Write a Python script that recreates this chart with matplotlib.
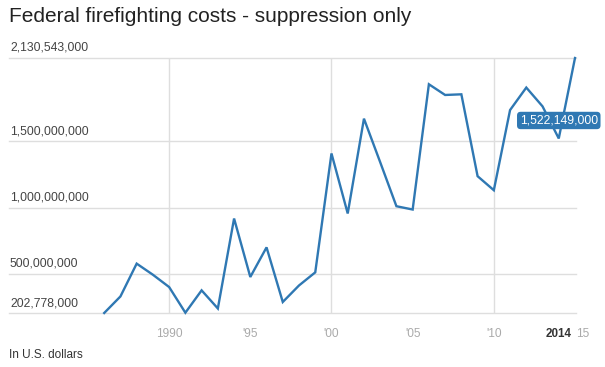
import matplotlib
matplotlib.use("Agg")
import matplotlib.pyplot as plt

years = list(range(1986, 2016))
costs = [202778000, 328000000, 576000000, 492000000, 399000000, 205000000,
         374000000, 237000000, 917000000, 475000000, 699000000, 286000000,
         411000000, 510000000, 1409000000, 955000000, 1672000000, 1343000000,
         1010000000, 985000000, 1932000000, 1851000000, 1856000000, 1237000000,
         1131000000, 1737000000, 1907000000, 1765000000, 1522149000, 2130543000]

y_ticks = [202778000, 500000000, 1000000000, 1500000000, 2130543000]
y_tick_labels = ["202,778,000", "500,000,000", "1,000,000,000", "1,500,000,000", "2,130,543,000"]
x_ticks = [1990, 1995, 2000, 2005, 2010]
x_tick_labels = ["1990", "'95", "'00", "'05", "'10"]
x_grid = [1990, 2000, 2010]
highlight_year = 2014
highlight_value = 1522149000

plt.rcParams['font.family'] = ['Liberation Sans', 'DejaVu Sans']

W, H = 605, 367
fig = plt.figure(figsize=(W / 100, H / 100), dpi=100)
left_px, right_px, top_px, bot_px = 9, 576, 58, 313
ax = fig.add_axes([left_px / W, 1 - bot_px / H, (right_px - left_px) / W, (bot_px - top_px) / H])

px_per_year = 16.2
x0 = 1986 - (104 - left_px) / px_per_year
x1 = 2015 + (right_px - 575) / px_per_year
ax.set_xlim(x0, x1)
ax.set_ylim(y_ticks[0], y_ticks[-1])

for s in ax.spines.values():
    s.set_visible(False)
ax.set_xticks([])
ax.set_yticks([])

grid_c = '#dedede'
for v in y_ticks:
    ax.axhline(v, color=grid_c, lw=1.0, zorder=1, clip_on=False)
for x in x_grid:
    ax.axvline(x, color=grid_c, lw=1.0, zorder=1)

line_c = '#2f78b3'
ax.plot(years, costs, color=line_c, lw=1.7, zorder=3, clip_on=False,
        solid_joinstyle='miter')

for v, lab in zip(y_ticks, y_tick_labels):
    ax.annotate(lab, xy=(0, v), xycoords=('axes fraction', 'data'),
                xytext=(1, 4), textcoords='offset pixels',
                ha='left', va='bottom', fontsize=8.7, color='#444444')

for x, lab in zip(x_ticks, x_tick_labels):
    ax.annotate(lab, xy=(x, 0), xycoords=('data', 'axes fraction'),
                xytext=(0, -21), textcoords='offset pixels',
                ha='center', va='center', fontsize=8.6, color='#aaaaaa')
ax.annotate("2014", xy=(2014, 0), xycoords=('data', 'axes fraction'),
            xytext=(0, -21), textcoords='offset pixels',
            ha='center', va='center', fontsize=8.4, color='#333333', fontweight='bold')
ax.annotate("15", xy=(2015, 0), xycoords=('data', 'axes fraction'),
            xytext=(1, -21), textcoords='offset pixels',
            ha='left', va='center', fontsize=8.6, color='#aaaaaa')

ax.annotate(f"{highlight_value:,}", xy=(highlight_year, highlight_value),
            xytext=(0, 18), textcoords='offset pixels',
            ha='center', va='center', fontsize=8.8, color='white', zorder=5,
            bbox=dict(boxstyle='round,pad=0.22,rounding_size=0.3', fc=line_c, ec='none'))

fig.text(9 / W, 1 - 17 / H, "Federal firefighting costs - suppression only",
         ha='left', va='center', fontsize=15, color='#222222')
fig.text(9 / W, 1 - 355 / H, "In U.S. dollars",
         ha='left', va='center', fontsize=8.5, color='#333333')

fig.savefig("out.png", dpi=100, facecolor='white')
